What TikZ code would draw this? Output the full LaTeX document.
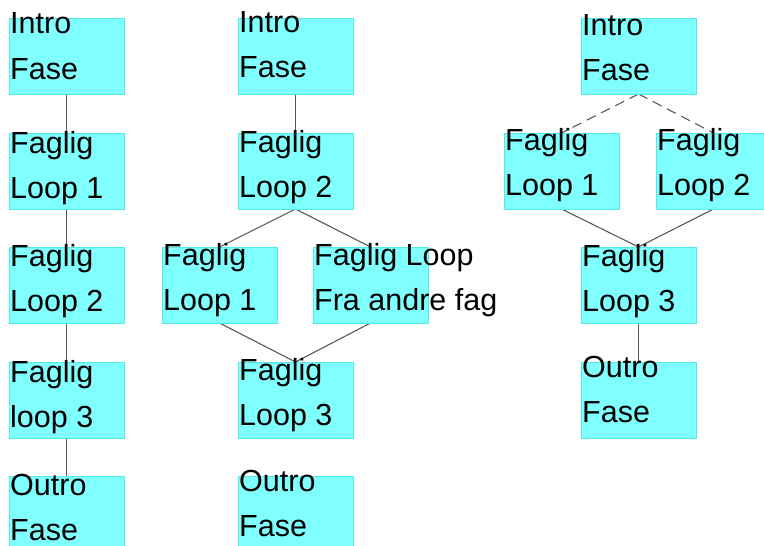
\documentclass[tikz,border=0pt]{standalone}
\usepackage{fontspec}
\setmainfont{Liberation Sans}
\pgfdeclarelayer{bg}
\pgfsetlayers{bg,main}
\definecolor{boxfill}{RGB}{128,255,255}
\definecolor{boxedge}{RGB}{80,236,236}
\definecolor{linkgray}{RGB}{88,88,88}
\tikzset{
  boxstyle/.style={draw=boxedge, fill=boxfill, line width=0.8pt, rectangle,
    minimum width=115pt, minimum height=76pt, inner sep=0pt, outer sep=0pt},
  txt/.style={anchor=base west, inner sep=0pt, outer sep=0pt,
    font=\fontsize{30.5}{36}\selectfont},
  link/.style={draw=linkgray, line width=1.1pt},
  dlink/.style={draw=linkgray, line width=1.1pt, dash pattern=on 10pt off 6pt}
}
\newcommand\flowbox[6]{%
  \node[boxstyle, anchor=north west] (#1) at (#2,#3) {};
  \node[txt] (#1-a) at (#2+1.2,#6) {#4};
  \node[txt] (#1-b) at (#2+1.2,#6+45) {#5};}
\begin{document}
\begin{tikzpicture}[x=1pt,y=-1pt]
\useasboundingbox (0,0) rectangle (764,546);
\clip (0,0) rectangle (764,546);
% column 1
\flowbox{c1a}{9}{18}{Intro}{Fase}{34}
\flowbox{c1b}{9}{133}{Faglig}{Loop 1}{153}
\flowbox{c1c}{9}{247}{Faglig}{Loop 2}{266}
\flowbox{c1d}{9}{362}{Faglig}{loop 3}{382}
\flowbox{c1e}{9}{476}{Outro}{Fase}{495}
% column 2
\flowbox{c2a}{238}{18}{Intro}{Fase}{32}
\flowbox{c2b}{238}{133}{Faglig}{Loop 2}{152}
\flowbox{c2c}{162}{247}{Faglig}{Loop 1}{265}
\flowbox{c2d}{313}{247}{Faglig Loop}{Fra andre fag}{265}
\flowbox{c2e}{238}{362}{Faglig}{Loop 3}{380}
\flowbox{c2f}{238}{476}{Outro}{Fase}{491}
% column 3
\flowbox{c3a}{581}{18}{Intro}{Fase}{35}
\flowbox{c3b}{504}{133}{Faglig}{Loop 1}{150}
\flowbox{c3c}{656}{133}{Faglig}{Loop 2}{150}
\flowbox{c3d}{581}{247}{Faglig}{Loop 3}{266}
\flowbox{c3e}{581}{362}{Outro}{Fase}{377}
\begin{pgfonlayer}{bg}
\draw[link] (c1a.south) -- (c1b.north);
\draw[link] (c1b.south) -- (c1c.north);
\draw[link] (c1c.south) -- (c1d.north);
\draw[link] (c1d.south) -- (c1e.north);
\draw[link] (c2a.south) -- (c2b.north);
\draw[link] (c2b.south) -- (c2c.north);
\draw[link] (c2b.south) -- (c2d.north);
\draw[link] (c2c.south) -- (c2e.north);
\draw[link] (c2d.south) -- (c2e.north);
\draw[dlink] (c3a.south) -- (c3b.north);
\draw[dlink] (c3a.south) -- (c3c.north);
\draw[link] (c3b.south) -- (c3d.north);
\draw[link] (c3c.south) -- (c3d.north);
\draw[link] (c3d.south) -- (c3e.north);
\end{pgfonlayer}
\end{tikzpicture}
\end{document}
